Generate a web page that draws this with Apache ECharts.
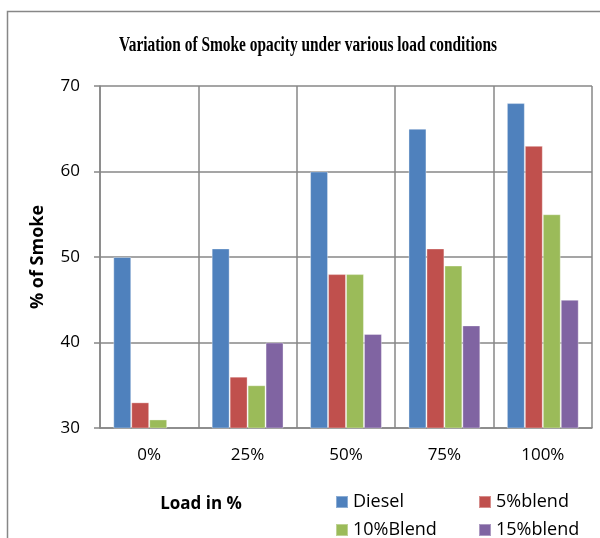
<!DOCTYPE html>
<html>
<head>
<meta charset="utf-8">
<script src="https://cdn.jsdelivr.net/npm/echarts@6/dist/echarts.min.js"></script>
<style>
  html, body { margin: 0; padding: 0; background: #fff; }
  #chart { width: 600px; height: 538px; }
</style>
</head>
<body>
<div id="chart"></div>
<script>
// data
const loads = ['0%', '25%', '50%', '75%', '100%'];
const diesel = [50, 51, 60, 65, 68];
const blend5 = [33, 36, 48, 51, 63];
const blend10 = [31, 35, 48, 49, 55];
const blend15 = [null, 40, 41, 42, 45];
const yTicks = { min: 30, max: 70, interval: 10 };

const gridColor = '#878787';
const font = '"Open Sans", sans-serif';

const myChart = echarts.init(document.getElementById('chart'));

function bar(name, data, color) {
    return {
        name: name,
        type: 'bar',
        data: data,
        barGap: '0%',
        barCategoryGap: '27%',
        itemStyle: {
            color: color,
            borderColor: 'rgba(255,255,255,0.35)',
            borderWidth: 1
        }
    };
}

// one legend per entry so the 2x2 layout stays put
function legendItem(name, left, top) {
    return {
        left: left,
        top: top,
        itemWidth: 12,
        itemHeight: 12,
        icon: 'rect',
        data: [name],
        textStyle: { color: '#000', fontSize: 18, fontFamily: font }
    };
}

const option = {
    animation: false,
    grid: { left: 100, right: 8, top: 86, bottom: 110 },
    graphic: [
        {
            // outer chart frame
            type: 'rect',
            shape: { x: 7.5, y: 11.5, width: 700, height: 700 },
            style: { fill: 'none', stroke: gridColor, lineWidth: 1.5 },
            silent: true
        },
        {
            type: 'text',
            x: 308, y: 46,
            scaleX: 0.77,
            style: {
                text: 'Variation of Smoke opacity under various load conditions',
                font: 'bold 20px "Liberation Serif", serif',
                fill: '#000',
                align: 'center',
                verticalAlign: 'middle'
            }
        },
        {
            type: 'text',
            x: 201, y: 504,
            style: {
                text: 'Load in %',
                font: 'bold 17px ' + font,
                fill: '#000',
                align: 'center',
                verticalAlign: 'middle'
            }
        }
    ],
    legend: [
        legendItem('Diesel', 330, 488),
        legendItem('5%blend', 473, 488),
        legendItem('10%Blend', 330, 516),
        legendItem('15%blend', 473, 516)
    ],
    xAxis: {
        type: 'category',
        data: loads,
        axisLine: { lineStyle: { color: gridColor, width: 1.5 } },
        axisTick: { show: false },
        axisLabel: { color: '#000', fontSize: 17, fontFamily: font, margin: 19 },
        splitLine: { show: true, interval: 0, lineStyle: { color: gridColor, width: 1.5 } }
    },
    yAxis: {
        type: 'value',
        min: yTicks.min,
        max: yTicks.max,
        interval: yTicks.interval,
        name: '% of Smoke',
        nameLocation: 'middle',
        nameGap: 53,
        nameTextStyle: { color: '#000', fontSize: 18, fontWeight: 'bold', fontFamily: font },
        axisLine: { show: true, lineStyle: { color: gridColor, width: 1.5 } },
        axisTick: { show: true, length: 6, lineStyle: { color: gridColor, width: 1.5 } },
        axisLabel: { color: '#000', fontSize: 17, fontFamily: font, margin: 20 },
        splitLine: { show: true, lineStyle: { color: gridColor, width: 1.5 } }
    },
    series: [
        bar('Diesel', diesel, '#4F81BD'),
        bar('5%blend', blend5, '#C0504D'),
        bar('10%Blend', blend10, '#9BBB59'),
        bar('15%blend', blend15, '#8064A2')
    ]
};

myChart.setOption(option);
</script>
</body>
</html>
